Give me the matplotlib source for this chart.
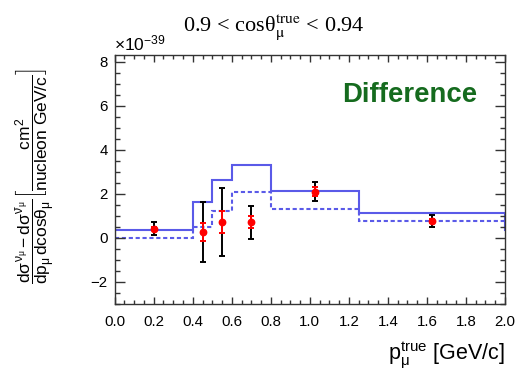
import matplotlib
matplotlib.use("Agg")
import matplotlib.pyplot as plt
from matplotlib.ticker import MultipleLocator

plt.rcParams['font.family'] = ['Liberation Sans', 'DejaVu Sans']
plt.rcParams['mathtext.fontset'] = 'custom'
plt.rcParams['mathtext.rm'] = 'Liberation Sans'
plt.rcParams['mathtext.it'] = 'Liberation Sans'
plt.rcParams['mathtext.bf'] = 'Liberation Sans:bold'
plt.rcParams['mathtext.sf'] = 'Liberation Sans'

# Bin edges in muon momentum [GeV/c]; last bin lies beyond the displayed range
bin_edges = [0.0, 0.4, 0.5, 0.6, 0.8, 1.25, 2.0, 2.5]
# Prediction, solid line (units of 1e-39)
pred_solid = [0.35, 1.62, 2.62, 3.31, 2.11, 1.15, 0.35]
# Alternative prediction, dashed line
pred_dashed = [0.0, 0.49, 1.24, 2.09, 1.33, 0.76, 0.76]

# Measured difference at bin centres
data_x = [0.2, 0.45, 0.55, 0.7, 1.025, 1.625]
data_y = [0.42, 0.26, 0.72, 0.72, 2.10, 0.76]
err_total = [0.30, 1.37, 1.55, 0.75, 0.43, 0.28]
err_stat = [0.08, 0.40, 0.50, 0.27, 0.20, 0.08]

W, H = 520, 376
fig = plt.figure(figsize=(W / 100, H / 100), dpi=100)
ax = fig.add_axes([114.7 / W, 1 - 304 / H, (505 - 114.7) / W, (304 - 55) / H])

blue = '#5a5ae8'
ax.stairs(pred_solid, bin_edges, color=blue, lw=1.5, baseline=None)
ax.stairs(pred_dashed, bin_edges, color=blue, lw=1.5, baseline=None,
          linestyle=(0, (2.0, 1.3)))

ax.errorbar(data_x, data_y, yerr=err_total, fmt='none', ecolor='black',
            elinewidth=1.4, capsize=2.2, capthick=1.4, zorder=3)
ax.errorbar(data_x, data_y, yerr=err_stat, fmt='o', color='red', ecolor='red',
            elinewidth=1.4, capsize=2.2, capthick=1.4, markersize=4.6, zorder=4)

ax.set_xlim(0, 2.0)
ax.set_ylim(-3, 8.3)

ax.xaxis.set_major_locator(MultipleLocator(0.2))
ax.xaxis.set_minor_locator(MultipleLocator(0.05))
ax.yaxis.set_major_locator(MultipleLocator(2))
ax.yaxis.set_minor_locator(MultipleLocator(0.5))
ax.xaxis.set_major_formatter(plt.FuncFormatter(lambda v, p: f"{v:.1f}"))
ax.yaxis.set_major_formatter(plt.FuncFormatter(
    lambda v, p: f"{int(round(v))}".replace('-', '\u2212')))

ax.tick_params(axis='both', which='both', direction='in', top=True, right=True,
               labelsize=10.8, color='#333333', width=1.0)
ax.tick_params(axis='x', which='major', length=5, pad=8)
ax.tick_params(axis='x', which='minor', length=2.8)
ax.tick_params(axis='y', which='major', length=7.5, pad=5)
ax.tick_params(axis='y', which='minor', length=3.8)
for sp in ax.spines.values():
    sp.set_linewidth(1.0)
    sp.set_color('#333333')

# Exponent marker above the frame
fig.text(114 / W, 1 - 50 / H, r'$\times10^{-39}$', fontsize=12.5,
         ha='left', va='baseline')

# Title
fig.text(274 / W, 1 - 27 / H,
         '0.9 < cos\u03b8$_{\\mathrm{\\mu}}^{\\mathrm{true}}$ < 0.94',
         fontsize=16, family=['Liberation Serif', 'DejaVu Serif'],
         math_fontfamily='stix', ha='center', va='center')

# Axis labels
fig.text(505 / W, 1 - 360 / H, r'p$_{\mu}^{\mathrm{true}}$ [GeV/c]',
         fontsize=15.5, ha='right', va='baseline')
fig.text(35 / W, 1 - 176 / H,
         r'$\dfrac{d\sigma^{\nu_{\mu}} - d\sigma^{\bar{\nu}_{\mu}}}'
         r'{dp_{\mu}\,dcos\theta_{\mu}}'
         r'\left[\dfrac{cm^{2}}{nucleon\ GeV/c}\right]$',
         fontsize=12.5, rotation=90, ha='center', va='center')

# Panel label
ax.text(410 / W, 1 - 95 / H, 'Difference', transform=fig.transFigure,
        fontsize=19.8, fontweight='bold', color='#156b1e',
        ha='center', va='center')

fig.savefig('out.png', dpi=100)
